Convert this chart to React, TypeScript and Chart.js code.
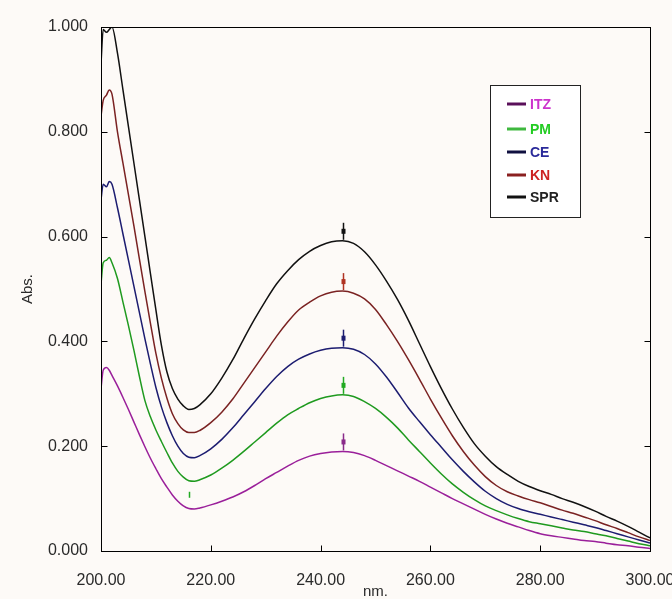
import React, { useEffect, useRef } from "react";
import { Chart, registerables } from "chart.js";

Chart.register(...registerables);

// Wavelength grid (nm)
const wavelengths = [
  200, 200.4, 201, 201.5, 202, 203, 204, 205, 206, 207, 208, 209, 210, 211, 212, 213, 214, 215, 216, 217, 218,
  220, 222, 224, 226, 228, 230, 232, 234, 236, 238, 240, 242, 244, 246, 248, 250, 252, 254, 256, 258, 260,
  262, 264, 266, 268, 270, 272, 274, 276, 278, 280, 282, 284, 286, 288, 290, 292, 294, 296, 298, 300,
];

const itzValues = [
  0.31, 0.345, 0.35, 0.345, 0.335, 0.315, 0.293, 0.27, 0.246, 0.222, 0.199, 0.177, 0.157, 0.138, 0.122, 0.107, 0.095, 0.086, 0.081, 0.08, 0.082,
  0.088, 0.095, 0.103, 0.113, 0.125, 0.138, 0.15, 0.162, 0.173, 0.181, 0.186, 0.189, 0.19, 0.188, 0.182, 0.173, 0.163, 0.153, 0.143, 0.133, 0.122,
  0.111, 0.1, 0.09, 0.08, 0.07, 0.061, 0.053, 0.046, 0.039, 0.033, 0.029, 0.026, 0.023, 0.02, 0.018, 0.015, 0.012, 0.01, 0.007, 0.005,
];

const pmValues = [
  0.51, 0.55, 0.555, 0.56, 0.55, 0.52, 0.475, 0.43, 0.383, 0.333, 0.287, 0.256, 0.231, 0.209, 0.188, 0.168, 0.152, 0.141, 0.134, 0.133, 0.136,
  0.145, 0.158, 0.173, 0.19, 0.208, 0.226, 0.244, 0.26, 0.272, 0.283, 0.291, 0.296, 0.298, 0.295, 0.285, 0.272, 0.255, 0.235, 0.212, 0.19, 0.168,
  0.147, 0.128, 0.112, 0.098, 0.086, 0.077, 0.069, 0.062, 0.056, 0.052, 0.048, 0.044, 0.04, 0.037, 0.033, 0.029, 0.024, 0.019, 0.014, 0.01,
];

const ceValues = [
  0.67, 0.70, 0.695, 0.705, 0.70, 0.655, 0.605, 0.555, 0.505, 0.455, 0.405, 0.357, 0.312, 0.275, 0.245, 0.22, 0.2, 0.186, 0.179, 0.178, 0.182,
  0.195, 0.213, 0.235, 0.26, 0.285, 0.31, 0.333, 0.352, 0.366, 0.376, 0.383, 0.387, 0.388, 0.385, 0.375, 0.357, 0.332, 0.303, 0.273, 0.247, 0.222,
  0.198, 0.174, 0.152, 0.132, 0.114, 0.1, 0.089, 0.081, 0.075, 0.07, 0.065, 0.06, 0.055, 0.05, 0.045, 0.039, 0.033, 0.027, 0.021, 0.015,
];

const knValues = [
  0.83, 0.86, 0.87, 0.88, 0.872, 0.80, 0.74, 0.68, 0.62, 0.557, 0.495, 0.435, 0.377, 0.33, 0.292, 0.262, 0.243, 0.231, 0.226, 0.226, 0.23,
  0.245, 0.265, 0.29, 0.32, 0.35, 0.38, 0.41, 0.437, 0.46, 0.475, 0.487, 0.494, 0.496, 0.492, 0.481, 0.461, 0.432, 0.4, 0.365, 0.328, 0.29,
  0.254, 0.22, 0.19, 0.164, 0.142, 0.125, 0.113, 0.105, 0.098, 0.092, 0.085, 0.078, 0.072, 0.065, 0.058, 0.05, 0.043, 0.035, 0.027, 0.02,
];

const sprValues = [
  0.93, 0.995, 0.99, 0.995, 1.0, 0.95, 0.88, 0.81, 0.74, 0.67, 0.6, 0.53, 0.46, 0.393, 0.342, 0.31, 0.29, 0.277, 0.27, 0.272, 0.279,
  0.3, 0.33, 0.365, 0.405, 0.443, 0.478, 0.51, 0.535, 0.556, 0.572, 0.583, 0.59, 0.592, 0.587, 0.571, 0.546, 0.515, 0.48, 0.44, 0.396, 0.352,
  0.31, 0.271, 0.236, 0.205, 0.181, 0.161, 0.146, 0.133, 0.123, 0.115, 0.108, 0.1, 0.093, 0.085, 0.076, 0.066, 0.057, 0.047, 0.036, 0.025,
];

const seriesNames = ["ITZ", "PM", "CE", "KN", "SPR"];
const seriesValues = [itzValues, pmValues, ceValues, knValues, sprValues];
const lineColors = ["#9a1f9a", "#1f9a1f", "#1c1c70", "#7a2222", "#111111"];
const legendLineColors = ["#5a105a", "#3fb83f", "#101040", "#8a2020", "#111111"];
const legendTextColors = ["#cc33cc", "#22cc22", "#2a2a9a", "#cc2222", "#222222"];
const markerColors = ["#8a2a8a", "#22aa22", "#1c1c70", "#b03322", "#111111"];

const xTickValues = [200, 220, 240, 260, 280, 300];
const yTickValues = [0, 0.2, 0.4, 0.6, 0.8, 1.0];
const peakWavelength = 244;
const minWavelength = 216;

const FONT = "'Liberation Sans', Arial, Helvetica, sans-serif";

const framePlugin = {
  id: "frameAndMarks",
  afterDatasetsDraw(chart: any) {
    const ctx = chart.ctx;
    const { left, right, top, bottom } = chart.chartArea;
    const xs = chart.scales.x;
    const ys = chart.scales.y;
    const L = Math.round(left) + 0.5;
    const R = Math.round(right) + 0.5;
    const T = Math.round(top) + 0.5;
    const B = Math.round(bottom) + 0.5;
    ctx.save();
    ctx.strokeStyle = "#000";
    ctx.lineWidth = 1;
    ctx.strokeRect(L, T, R - L, B - T);
    // inward ticks
    ctx.beginPath();
    xTickValues.forEach((v) => {
      const px = Math.round(xs.getPixelForValue(v)) + 0.5;
      ctx.moveTo(px, B);
      ctx.lineTo(px, B - 6);
    });
    yTickValues.forEach((v) => {
      const py = Math.round(ys.getPixelForValue(v)) + 0.5;
      ctx.moveTo(L, py);
      ctx.lineTo(L + 6, py);
      ctx.moveTo(R, py);
      ctx.lineTo(R - 6, py);
    });
    ctx.stroke();

    // peak markers
    const pi = wavelengths.indexOf(peakWavelength);
    seriesValues.forEach((vals, i) => {
      const px = Math.round(xs.getPixelForValue(wavelengths[pi])) + 0.5;
      const py = ys.getPixelForValue(vals[pi]);
      ctx.strokeStyle = markerColors[i];
      ctx.fillStyle = markerColors[i];
      ctx.lineWidth = 1.5;
      ctx.beginPath();
      ctx.moveTo(px, py - 1);
      ctx.lineTo(px, py - 18);
      ctx.stroke();
      ctx.fillRect(px - 2, py - 12, 4, 5);
    });
    // minimum marker (PM)
    const mi = wavelengths.indexOf(minWavelength);
    const mpx = Math.round(xs.getPixelForValue(wavelengths[mi])) + 0.5;
    const mpy = ys.getPixelForValue(pmValues[mi]);
    ctx.strokeStyle = markerColors[1];
    ctx.lineWidth = 1.5;
    ctx.beginPath();
    ctx.moveTo(mpx, mpy + 11);
    ctx.lineTo(mpx, mpy + 17);
    ctx.stroke();

    // legend box
    const bx = 490.5, by = 85.5, bw = 90, bh = 132;
    ctx.fillStyle = "#ffffff";
    ctx.fillRect(bx, by, bw, bh);
    ctx.strokeStyle = "#222";
    ctx.lineWidth = 1;
    ctx.strokeRect(bx, by, bw, bh);
    const rowY = [104, 129, 152, 175, 197];
    ctx.font = `bold 14px ${FONT}`;
    ctx.textBaseline = "middle";
    ctx.textAlign = "left";
    seriesNames.forEach((name, i) => {
      const y = rowY[i];
      ctx.strokeStyle = legendLineColors[i];
      ctx.lineWidth = 3;
      ctx.beginPath();
      ctx.moveTo(507, y);
      ctx.lineTo(526, y);
      ctx.stroke();
      ctx.fillStyle = legendTextColors[i];
      ctx.fillText(name, 530, y + 1);
    });
    ctx.restore();
  },
};

export default function App() {
  const canvasRef = useRef<HTMLCanvasElement | null>(null);

  useEffect(() => {
    const canvas = canvasRef.current;
    if (!canvas) return;
    const datasets = seriesNames.map((name, i) => ({
      label: name,
      data: wavelengths.map((w, k) => ({ x: w, y: seriesValues[i][k] })),
      borderColor: lineColors[i],
      backgroundColor: lineColors[i],
      borderWidth: 1.5,
      pointRadius: 0,
      tension: 0,
      cubicInterpolationMode: "monotone" as const,
      fill: false,
    }));

    const chart = new Chart(canvas, {
      type: "line",
      data: { datasets },
      options: {
        animation: false,
        responsive: false,
        maintainAspectRatio: false,
        layout: { padding: { left: 0, top: 27, right: 22, bottom: 0 } },
        plugins: {
          legend: { display: false },
          tooltip: { enabled: false },
        },
        scales: {
          x: {
            type: "linear",
            min: 200,
            max: 300,
            afterBuildTicks: (s: any) => {
              s.ticks = xTickValues.map((v) => ({ value: v }));
            },
            afterFit: (s: any) => {
              s.height = 48;
              s.paddingLeft = 0;
              s.paddingRight = 0;
            },
            grid: { display: false },
            border: { display: false },
            ticks: {
              callback: (v: any) => Number(v).toFixed(2),
              font: { family: FONT, size: 16 },
              color: "#2a2a2a",
              padding: 12,
              maxRotation: 0,
              autoSkip: false,
            },
            title: {
              display: true,
              text: "nm.",
              font: { family: FONT, size: 15, lineHeight: 1 },
              color: "#2a2a2a",
              padding: 0,
            },
          },
          y: {
            type: "linear",
            min: 0,
            max: 1,
            afterBuildTicks: (s: any) => {
              s.ticks = yTickValues.map((v) => ({ value: v }));
            },
            afterFit: (s: any) => {
              s.width = 101;
              s.paddingTop = 0;
              s.paddingBottom = 0;
            },
            grid: { display: false },
            border: { display: false },
            ticks: {
              callback: (v: any) => Number(v).toFixed(3),
              font: { family: FONT, size: 16 },
              color: "#2a2a2a",
              padding: 5,
              autoSkip: false,
            },
            title: {
              display: true,
              text: "Abs.",
              font: { family: FONT, size: 15, lineHeight: 1 },
              color: "#2a2a2a",
              padding: { top: 20, bottom: 0 },
            },
          },
        },
      },
      plugins: [framePlugin],
    });
    return () => chart.destroy();
  }, []);

  return (
    <div
      style={{
        position: "absolute",
        left: 0,
        top: 0,
        width: 672,
        height: 599,
        background: "#fdfaf7",
      }}
    >
      <canvas ref={canvasRef} width={672} height={599} style={{ display: "block" }} />
    </div>
  );
}
